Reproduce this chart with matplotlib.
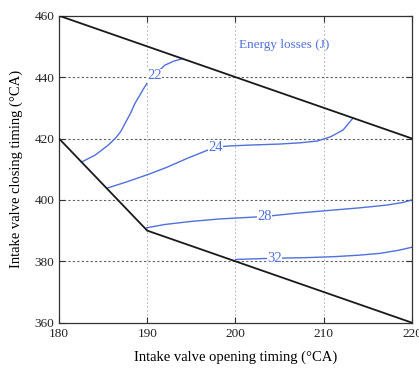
import matplotlib
matplotlib.use("Agg")
import matplotlib.pyplot as plt

plt.rcParams["font.family"] = ["Liberation Serif", "DejaVu Serif"]

# feasible-region boundaries (IVO, IVC)
upper_x = [180, 220]
upper_y = [460, 420]
lower_x = [180, 190, 220]
lower_y = [420, 390, 360]

# energy-loss contours
c22_x = [182.6, 184.1, 185.6, 186.4, 187.0, 187.5, 188.1, 188.6, 189.6, 190.2, 190.8, 192.0, 193.0, 194.0]
c22_y = [412.4, 414.6, 417.9, 420.1, 422.3, 425.0, 428.2, 431.4, 436.3, 439.0, 440.7, 443.9, 445.2, 446.0]
c24_x = [185.4, 187.7, 190.1, 192.2, 194.5, 196.4, 197.7, 199.4, 202.0, 205.0, 207.3, 209.3, 210.8, 212.2, 213.3]
c24_y = [403.8, 405.9, 408.3, 410.6, 413.5, 415.7, 417.2, 417.6, 417.9, 418.2, 418.6, 419.2, 420.6, 422.8, 426.6]
c28_x = [189.9, 192.0, 195.0, 198.2, 203.3, 207.0, 211.1, 214.0, 217.1, 219.0, 220.0]
c28_y = [390.9, 392.0, 393.0, 393.8, 394.6, 395.7, 396.7, 397.4, 398.3, 399.2, 400.0]
c32_x = [200.0, 202.0, 204.4, 208.0, 211.1, 214.0, 216.4, 218.5, 220.0]
c32_y = [380.6, 380.8, 381.0, 381.2, 381.5, 382.0, 382.6, 383.6, 384.6]

contour_labels = ["22", "24", "28", "32"]
label_x = [190.8, 197.7, 203.3, 204.4]
label_y = [440.5, 417.2, 394.6, 381.0]

x_ticks = [180, 190, 200, 210, 220]
y_ticks = [360, 380, 400, 420, 440, 460]

blue = "#5070dc"

fig = plt.figure(figsize=(4.19, 3.70), dpi=100)
ax = fig.add_axes([0.1408, 0.1278, 0.8425, 0.8297])

for xv in x_ticks[1:-1]:
    ax.axvline(xv, color="#b8b8b8", linestyle=(0, (1.5, 2)), linewidth=0.8, zorder=0)
for yv in y_ticks[1:-1]:
    ax.axhline(yv, color="#606060", linestyle=(0, (2, 2)), linewidth=0.8, zorder=0)

ax.plot(upper_x, upper_y, color="#1a1a1a", linewidth=1.3, zorder=3)
ax.plot(lower_x, lower_y, color="#1a1a1a", linewidth=1.3, zorder=3)

for cx, cy in [(c22_x, c22_y), (c24_x, c24_y), (c28_x, c28_y), (c32_x, c32_y)]:
    ax.plot(cx, cy, color=blue, linewidth=1.0, zorder=2, solid_joinstyle="round")

for txt, lx, ly in zip(contour_labels, label_x, label_y):
    ax.text(lx, ly, txt, color=blue, fontsize=10.5, ha="center", va="center", zorder=4,
            bbox=dict(facecolor="white", edgecolor="none", pad=0.3))

ax.text(200.4, 450.5, "Energy losses (J)", color=blue, fontsize=9.5, ha="left", va="center")

ax.set_xlim(180, 220)
ax.set_ylim(360, 460)
ax.set_xticks(x_ticks)
ax.set_yticks(y_ticks)
ax.tick_params(direction="in", top=True, right=True, length=4, width=0.8,
               labelsize=9.5, colors="#333333", labelcolor="#222222")
for sp in ax.spines.values():
    sp.set_color("#333333")
    sp.set_linewidth(0.9)

ax.set_xlabel("Intake valve opening timing (°CA)", fontsize=10.5, labelpad=8)
ax.set_ylabel("Intake valve closing timing (°CA)", fontsize=10.5, labelpad=8)

fig.savefig("out.png", dpi=100)
